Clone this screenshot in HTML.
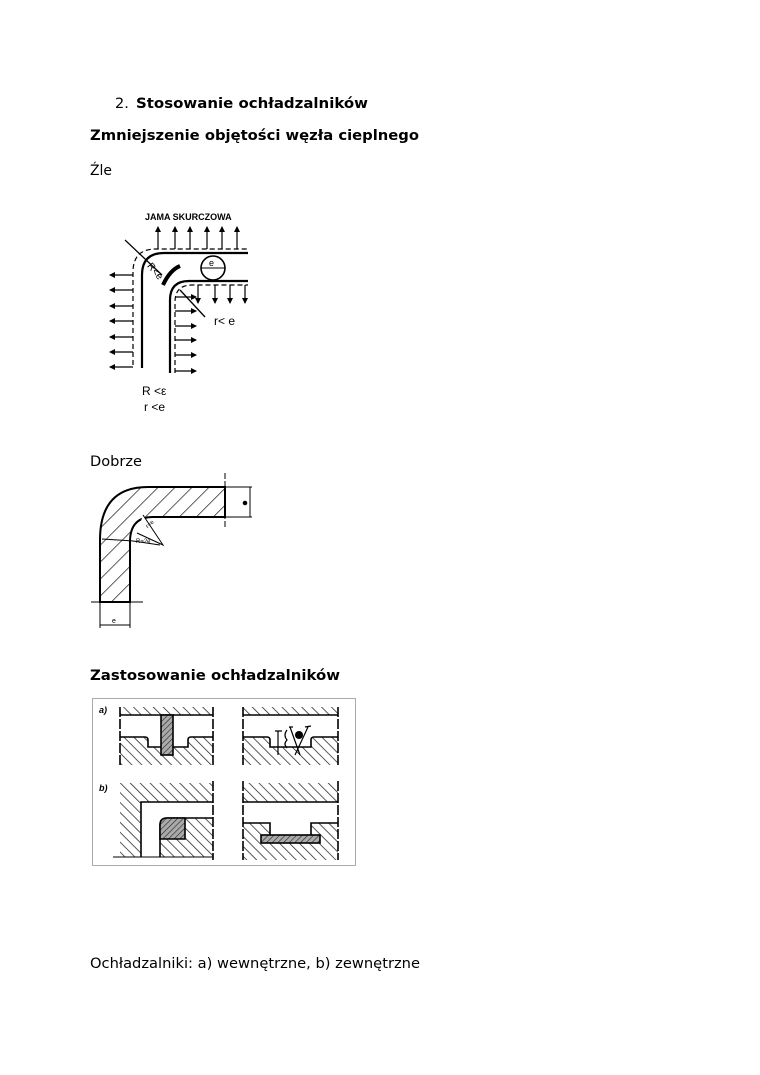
<!DOCTYPE html>
<html><head><meta charset="utf-8"><style>
html,body{margin:0;padding:0;background:#fff;}
svg{display:block;}
.t{font-family:"DejaVu Sans","Liberation Sans",sans-serif;font-size:14.5px;fill:#000;}
.b{font-weight:bold;}
.s{font-family:"Liberation Sans",sans-serif;fill:#000;}
</style></head><body>
<svg width="760" height="1075" viewBox="0 0 760 1075" xmlns="http://www.w3.org/2000/svg">
<defs>
<pattern id="h" width="7" height="7" patternUnits="userSpaceOnUse" patternTransform="rotate(-45)">
<rect width="7" height="7" fill="#fff"/><line x1="0" y1="0" x2="0" y2="7" stroke="#222" stroke-width="1.5"/>
</pattern>
<pattern id="h2" width="12" height="12" patternUnits="userSpaceOnUse" patternTransform="rotate(45)">
<rect width="12" height="12" fill="#fff"/><line x1="0" y1="0" x2="0" y2="12" stroke="#111" stroke-width="1.4"/>
</pattern>
<pattern id="h3" width="4" height="4" patternUnits="userSpaceOnUse" patternTransform="rotate(45)">
<rect width="4" height="4" fill="#aaa"/><line x1="0" y1="0" x2="0" y2="4" stroke="#222" stroke-width="1.2"/>
</pattern>
<marker id="a" viewBox="0 0 6 6" refX="5" refY="3" markerWidth="5" markerHeight="5" orient="auto"><path d="M0,0 L6,3 L0,6 z" fill="#000"/></marker>
</defs>

<text class="t" x="115" y="108">2.</text>
<text class="t b" x="136" y="108" textLength="232" lengthAdjust="spacingAndGlyphs">Stosowanie ochładzalników</text>
<text class="t b" x="90" y="140" textLength="329" lengthAdjust="spacingAndGlyphs">Zmniejszenie objętości węzła cieplnego</text>
<text class="t" x="90" y="175" textLength="22" lengthAdjust="spacingAndGlyphs">Źle</text>
<text class="t" x="90" y="466" textLength="52" lengthAdjust="spacingAndGlyphs">Dobrze</text>
<text class="t b" x="90" y="680" textLength="250" lengthAdjust="spacingAndGlyphs">Zastosowanie ochładzalników</text>
<text class="t" x="90" y="968" textLength="330" lengthAdjust="spacingAndGlyphs">Ochładzalniki: a) wewnętrzne, b) zewnętrzne</text>

<!-- Figure 1 -->
<g fill="none" stroke="#000">
<text class="s" x="145" y="220" font-size="9" font-weight="bold" stroke="none">JAMA SKURCZOWA</text>
<path d="M142,368 L142,275 Q142,253 164,253 L248,253" stroke-width="2.2"/>
<path d="M133,365 L133,272 Q133,249 156,249 L248,249" stroke-width="1.2" stroke-dasharray="5,3"/>
<path d="M170,373 L170,300 Q170,281 189,281 L248,281" stroke-width="2.2"/>
<path d="M175,373 L175,302 Q175,285 192,285 L248,285" stroke-width="1.2" stroke-dasharray="5,3"/>
<g stroke-width="1.2" marker-end="url(#a)">
<line x1="133" y1="275" x2="110" y2="275"/><line x1="133" y1="290" x2="110" y2="290"/>
<line x1="133" y1="306" x2="110" y2="306"/><line x1="133" y1="321" x2="110" y2="321"/>
<line x1="133" y1="337" x2="110" y2="337"/><line x1="133" y1="352" x2="110" y2="352"/>
<line x1="133" y1="367" x2="110" y2="367"/>
<line x1="158" y1="249" x2="158" y2="227"/><line x1="175" y1="249" x2="175" y2="227"/>
<line x1="190" y1="249" x2="190" y2="227"/><line x1="207" y1="249" x2="207" y2="227"/>
<line x1="222" y1="249" x2="222" y2="227"/><line x1="237" y1="249" x2="237" y2="227"/>
<line x1="198" y1="285" x2="198" y2="303"/><line x1="215" y1="285" x2="215" y2="303"/>
<line x1="230" y1="285" x2="230" y2="303"/><line x1="245" y1="285" x2="245" y2="303"/>
<line x1="175" y1="297" x2="196" y2="297"/><line x1="175" y1="311" x2="196" y2="311"/>
<line x1="175" y1="326" x2="196" y2="326"/><line x1="175" y1="340" x2="196" y2="340"/>
<line x1="175" y1="355" x2="196" y2="355"/><line x1="175" y1="371" x2="196" y2="371"/>
</g>
<circle cx="213" cy="268" r="12" stroke-width="1.6" fill="#fff"/>
<line x1="201" y1="268" x2="225" y2="268" stroke-width="1"/>
<text class="s" x="209" y="266" font-size="9" stroke="none">e</text>
<line x1="125" y1="240" x2="162" y2="275" stroke-width="1.3"/>
<path d="M163,285 Q170,270 180,266" stroke-width="4"/>
<text class="s" x="145" y="270" font-size="10" stroke="none" transform="rotate(50 150 270)">R&lt;e</text>
<line x1="180" y1="290" x2="205" y2="317" stroke-width="1.3"/>
<text class="s" x="214" y="325" font-size="12" stroke="none">r&lt; e</text>
<text class="s" x="142" y="395" font-size="12" stroke="none">R &lt;ε</text>
<text class="s" x="144" y="411" font-size="12" stroke="none">r &lt;e</text>
</g>

<!-- Figure 2 -->
<g stroke="#000" fill="none">
<path d="M100,602 L100,540 Q100,487 148,487 L225,487 L225,517 L153,517 Q130,517 130,542 L130,602 Z" fill="url(#h2)" stroke-width="2"/>
<line x1="225" y1="473" x2="225" y2="527" stroke-width="1" stroke-dasharray="6,2"/>
<line x1="225" y1="487" x2="252" y2="487" stroke-width="1"/>
<line x1="225" y1="517" x2="252" y2="517" stroke-width="1"/>
<line x1="250" y1="487" x2="250" y2="517" stroke-width="1"/>
<circle cx="245" cy="503" r="1.8" fill="#000"/>
<line x1="91" y1="602" x2="143" y2="602" stroke-width="1"/>
<line x1="100" y1="602" x2="100" y2="628" stroke-width="1"/>
<line x1="130" y1="602" x2="130" y2="628" stroke-width="1"/>
<line x1="100" y1="625" x2="130" y2="625" stroke-width="1"/>
<text class="s" x="112" y="623" font-size="7" stroke="none">e</text>
<path d="M102,539 L133,541 L160,545" stroke-width="1"/>
<path d="M137,533 L163,545 L143,515" stroke-width="1" fill="#fff"/>
<text class="s" x="136" y="543" font-size="6" stroke="none">R=2e</text>
<text class="s" x="146" y="526" font-size="6" stroke="none" transform="rotate(-40 150 525)">r=e</text>
</g>

<!-- Figure 3 -->
<rect x="92.5" y="698.5" width="263" height="167" fill="#fff" stroke="#aaa" stroke-width="1"/>
<g stroke="#000" stroke-width="1.6" fill="none">
<text class="s" x="99" y="713" font-size="9" font-style="italic" font-weight="bold" stroke="none">a)</text>
<text class="s" x="99" y="791" font-size="9" font-style="italic" font-weight="bold" stroke="none">b)</text>
<rect x="120" y="707" width="93" height="8" fill="url(#h)" stroke="none"/>
<line x1="120" y1="715" x2="213" y2="715"/>
<path d="M120,737 L145,737 Q148,737 148,740 L148,747 L188,747 L188,740 Q188,737 191,737 L213,737 L213,765 L120,765 Z" fill="url(#h)" stroke="none"/>
<path d="M120,737 L145,737 Q148,737 148,740 L148,747 L188,747 L188,740 Q188,737 191,737 L213,737"/>
<rect x="161" y="715" width="12" height="40" fill="url(#h3)"/>
<line x1="120" y1="707" x2="120" y2="765" stroke-dasharray="10,2"/>
<line x1="213" y1="707" x2="213" y2="765" stroke-dasharray="10,2"/>
<rect x="243" y="707" width="95" height="8" fill="url(#h)" stroke="none"/>
<line x1="243" y1="715" x2="338" y2="715"/>
<path d="M243,737 L267,737 Q270,737 270,740 L270,747 L311,747 L311,740 Q311,737 314,737 L338,737 L338,765 L243,765 Z" fill="url(#h)" stroke="none"/>
<path d="M243,737 L267,737 Q270,737 270,740 L270,747 L311,747 L311,740 Q311,737 314,737 L338,737"/>
<line x1="243" y1="707" x2="243" y2="765" stroke-dasharray="10,2"/>
<line x1="338" y1="707" x2="338" y2="765" stroke-dasharray="10,2"/>
<g stroke-width="1.2">
<path d="M275,731 L282,731 M278,731 L278,755"/>
<path d="M287,730 Q283,735 287,740 Q283,744 287,748"/>
<path d="M290,727 L300,755 M308,727 L295,755 M289,727 L293,727 M305,727 L311,726"/>
</g>
<circle cx="299" cy="735" r="4" fill="#000" stroke="none"/>
<path d="M120,783 L213,783 L213,802 L141,802 L141,857 L120,857 Z" fill="url(#h)" stroke="none"/>
<path d="M213,802 L141,802 L141,857"/>
<path d="M160,857 L160,825 Q160,818 167,818 L213,818 L213,857 Z" fill="url(#h)" stroke="none"/>
<path d="M160,857 L160,825 Q160,818 167,818 L213,818"/>
<path d="M160,839 L160,825 Q160,818 167,818 L185,818 L185,839 Z" fill="url(#h3)"/>
<line x1="113" y1="857" x2="213" y2="857" stroke-width="1"/>
<line x1="213" y1="781" x2="213" y2="860" stroke-dasharray="10,2"/>
<rect x="243" y="783" width="95" height="19" fill="url(#h)" stroke="none"/>
<line x1="243" y1="802" x2="338" y2="802"/>
<path d="M243,823 L270,823 L270,835 L311,835 L311,823 L338,823 L338,860 L243,860 Z" fill="url(#h)" stroke="none"/>
<path d="M243,823 L270,823 L270,835 M311,835 L311,823 L338,823"/>
<rect x="261" y="835" width="59" height="8" fill="url(#h3)"/>
<line x1="243" y1="781" x2="243" y2="860" stroke-dasharray="10,2"/>
<line x1="338" y1="781" x2="338" y2="860" stroke-dasharray="10,2"/>
</g>
</svg>
</body></html>
